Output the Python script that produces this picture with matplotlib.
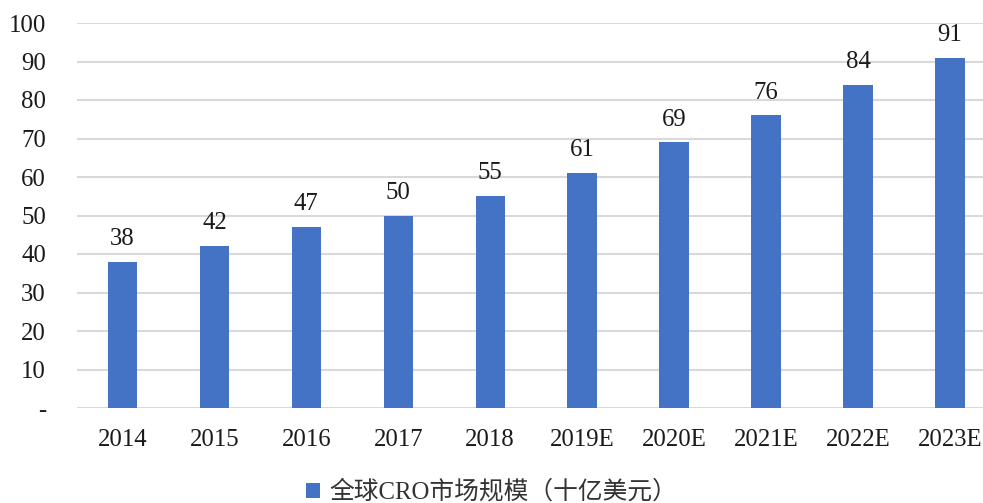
import matplotlib
matplotlib.use('Agg')
import matplotlib.pyplot as plt

plt.rcParams['font.family'] = ['Liberation Serif', 'Noto Sans CJK SC', 'DejaVu Sans']

# ── DATA ───────────────────────────────────────────────────
years  = ['2014', '2015', '2016', '2017', '2018',
          '2019E', '2020E', '2021E', '2022E', '2023E']
values = [38, 42, 47, 50, 55, 61, 69, 76, 84, 91]
yticks = [0, 10, 20, 30, 40, 50, 60, 70, 80, 90, 100]
ytick_labels = ['-'] + [str(v) for v in yticks[1:]]
series_name = '全球CRO市场规模（十亿美元）'

BAR   = '#4472C4'
GRID  = '#D9D9D9'
FS    = 17.8

fig = plt.figure(figsize=(9.83, 5.03), dpi=100)
ax = fig.add_axes([76.5 / 983, 95 / 503, (983 - 76.5) / 983, 385 / 503])

x = list(range(len(years)))
bars = ax.bar(x, values, width=0.32, color=BAR, zorder=3, label=series_name)

for xi, v in zip(x, values):
    ax.annotate(str(v), (xi, v), xytext=(0, 8.5), textcoords='offset points',
                ha='center', va='bottom', fontsize=FS, color='#1a1a1a',
                annotation_clip=False)

ax.set_xlim(-0.5, 9.36)
ax.set_ylim(0, 100)
ax.set_yticks(yticks)
ax.set_yticklabels(ytick_labels)
ax.set_xticks(x)
ax.set_xticklabels(years)
ax.tick_params(axis='both', length=0, labelsize=FS, colors='#1a1a1a')
ax.tick_params(axis='y', pad=22)
ax.tick_params(axis='x', pad=15)
ax.grid(axis='y', color=GRID, linewidth=1.5, zorder=0)
ax.set_axisbelow(True)
for s in ax.spines.values():
    s.set_visible(False)

fig.legend(handles=[bars], labels=[series_name], loc='center',
           bbox_to_anchor=(492 / 983, 1 - 492 / 503), frameon=False,
           fontsize=FS, handlelength=0.55, handleheight=0.55,
           handletextpad=0.4, labelcolor='#333333')

fig.savefig('out.png', dpi=100, facecolor='white')
